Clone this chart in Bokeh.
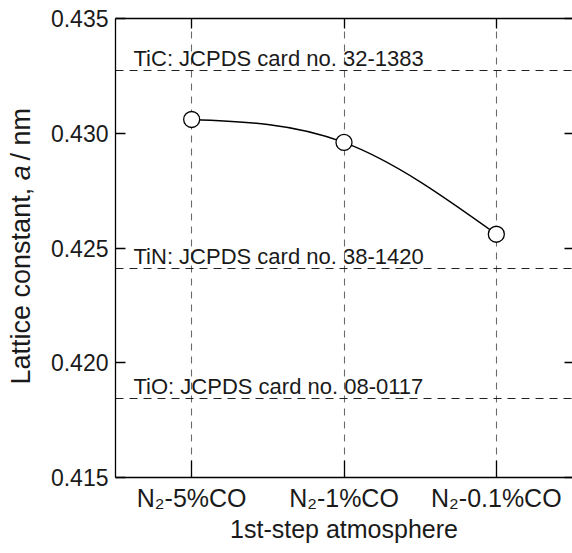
import numpy as np
from bokeh.plotting import figure
from bokeh.layouts import row
from bokeh.models import Range1d, LinearAxis, FixedTicker, ColumnDataSource
from bokeh.core.properties import value
from bokeh.embed import file_html
from bokeh.resources import INLINE

# ---- data -------------------------------------------------------------
atmospheres = ["N\u2082-5%CO", "N\u2082-1%CO", "N\u2082-0.1%CO"]
lattice_a = [0.4306, 0.4296, 0.4256]          # nm

ref_names = ["TiC: JCPDS card no. 32-1383",
             "TiN: JCPDS card no. 38-1420",
             "TiO: JCPDS card no. 08-0117"]
ref_values = [0.43275, 0.42412, 0.41845]       # nm

y_ticks = [0.415, 0.420, 0.425, 0.430, 0.435]
y_tick_labels = ["0.415", "0.420", "0.425", "0.430", "0.435"]

FONT = "Liberation Sans"
TEXT = "#1a1a1a"
H = 553
TITLE_W = 40
NBSP = "\u00a0"
xs = list(range(len(atmospheres)))

# ---- narrow strip carrying the y-axis title (italic "a") ---------------
t = figure(width=TITLE_W, height=H, output_backend="svg", toolbar_location=None,
           x_range=Range1d(0, TITLE_W), y_range=Range1d(0, H),
           x_axis_type=None, y_axis_type=None, min_border=0)
t.outline_line_color = None
t.xgrid.grid_line_color = None
t.ygrid.grid_line_color = None
t.border_fill_color = "white"
t.background_fill_color = "white"

a_start = H - 195          # where the italic "a" begins (text reads upward)
a_width = 15
base_x = 20
title_style = dict(angle=np.pi / 2, text_font=value(FONT), text_font_size="27px",
                   text_color=TEXT, text_baseline="alphabetic")
t.text(x=[base_x], y=[a_start], text=["Lattice constant," + NBSP],
       text_align="right", **title_style)
t.text(x=[base_x], y=[a_start], text=["a"], text_align="left",
       text_font_style="italic", **title_style)
t.text(x=[base_x], y=[a_start + a_width], text=[NBSP + "/" + NBSP + "nm"],
       text_align="left", **title_style)

# ---- main plot --------------------------------------------------------
p = figure(width=572 - TITLE_W, height=H, output_backend="svg", toolbar_location=None,
           x_range=Range1d(-0.5, 2.5), y_range=Range1d(0.415, 0.435),
           x_axis_type=None, y_axis_type=None,
           min_border_left=115 - TITLE_W, min_border_right=0,
           min_border_top=18, min_border_bottom=76)
p.outline_line_color = None
p.background_fill_color = "white"
p.border_fill_color = "white"


def style_axis(ax):
    ax.axis_line_color = "black"
    ax.axis_line_width = 1.3
    ax.major_tick_line_color = "black"
    ax.major_tick_line_width = 1.3
    ax.minor_tick_line_color = None
    ax.major_tick_out = 0
    ax.major_label_text_font = FONT
    ax.major_label_text_color = TEXT


def ticks_only(ax):
    # mirror axis: tick marks without labels
    ax.major_label_standoff = 0
    ax.major_label_text_font_size = "0px"
    ax.major_label_text_color = None


left = LinearAxis(ticker=FixedTicker(ticks=y_ticks))
style_axis(left)
left.major_tick_in = 10
left.major_label_standoff = 7
left.major_label_text_font_size = "23px"
left.major_label_overrides = dict(zip(y_ticks, y_tick_labels))
p.add_layout(left, "left")

right = LinearAxis(ticker=FixedTicker(ticks=y_ticks))
style_axis(right)
right.axis_line_color = None
right.major_tick_in = 8
ticks_only(right)
p.add_layout(right, "right")

bottom = LinearAxis(ticker=FixedTicker(ticks=xs))
style_axis(bottom)
bottom.major_tick_in = 17
bottom.major_label_standoff = 6
bottom.major_label_text_font_size = "25px"
bottom.major_label_overrides = dict(zip(xs, atmospheres))
bottom.axis_label = "1st-step atmosphere"
bottom.axis_label_text_font = FONT
bottom.axis_label_text_font_style = "normal"
bottom.axis_label_text_font_size = "25px"
bottom.axis_label_text_color = TEXT
bottom.axis_label_standoff = 0
p.add_layout(bottom, "below")

top = LinearAxis(ticker=FixedTicker(ticks=xs))
style_axis(top)
top.major_tick_in = 10
ticks_only(top)
p.add_layout(top, "above")

# vertical dashed guides at each atmosphere
p.vspan(x=xs, line_color="#6a6a6a", line_width=1.1, line_dash="7 6")

# reference lattice constants
p.hspan(y=ref_values, line_color="#222222", line_width=1.2, line_dash="8 6")
p.text(x=[-0.5] * len(ref_values), y=ref_values, text=ref_names,
       x_offset=18, y_offset=-12, text_baseline="alphabetic",
       text_align="left", text_font=value(FONT), text_font_size="22px",
       text_color=TEXT)


# smooth connecting curve (natural cubic spline as Bezier pieces)
def natural_spline_slopes(x, y):
    x = np.asarray(x, float)
    y = np.asarray(y, float)
    n = len(x)
    h = np.diff(x)
    A = np.zeros((n, n))
    r = np.zeros(n)
    A[0, 0] = A[-1, -1] = 1.0
    for i in range(1, n - 1):
        A[i, i - 1] = h[i - 1]
        A[i, i] = 2 * (h[i - 1] + h[i])
        A[i, i + 1] = h[i]
        r[i] = 6 * ((y[i + 1] - y[i]) / h[i] - (y[i] - y[i - 1]) / h[i - 1])
    M = np.linalg.solve(A, r)
    s = np.zeros(n)
    for i in range(n - 1):
        s[i] = (y[i + 1] - y[i]) / h[i] - h[i] * (2 * M[i] + M[i + 1]) / 6
    s[-1] = (y[-1] - y[-2]) / h[-1] + h[-1] * (M[-2] + 2 * M[-1]) / 6
    return s


slopes = natural_spline_slopes(xs, lattice_a)
seg = dict(x0=[], y0=[], x1=[], y1=[], cx0=[], cy0=[], cx1=[], cy1=[])
for i in range(len(xs) - 1):
    h = xs[i + 1] - xs[i]
    seg["x0"].append(xs[i]); seg["y0"].append(lattice_a[i])
    seg["x1"].append(xs[i + 1]); seg["y1"].append(lattice_a[i + 1])
    seg["cx0"].append(xs[i] + h / 3); seg["cy0"].append(lattice_a[i] + slopes[i] * h / 3)
    seg["cx1"].append(xs[i + 1] - h / 3); seg["cy1"].append(lattice_a[i + 1] - slopes[i + 1] * h / 3)
p.bezier(x0="x0", y0="y0", x1="x1", y1="y1", cx0="cx0", cy0="cy0",
         cx1="cx1", cy1="cy1", source=ColumnDataSource(seg),
         line_color="black", line_width=1.4)

p.scatter(x=xs, y=lattice_a, marker="circle", size=16, fill_color="white",
          line_color="black", line_width=1.3)

layout = row(t, p, spacing=0)
open("out.html", "w").write(file_html(layout, INLINE))
